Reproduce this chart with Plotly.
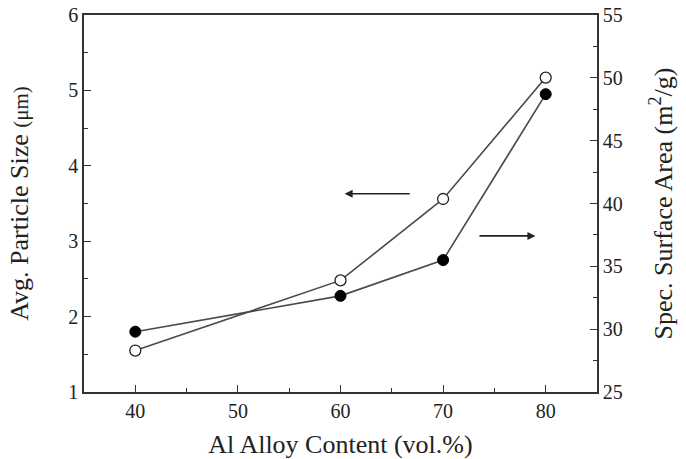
import plotly.graph_objects as go

al_content = [40, 60, 70, 80]
particle_size = [1.55, 2.48, 3.56, 5.17]      # left axis, open circles
surface_area = [29.8, 32.65, 35.5, 48.7]      # right axis, filled circles

FONT = "Liberation Serif"
LC = "#333333"

fig = go.Figure()
fig.add_trace(go.Scatter(
    x=al_content, y=particle_size, mode="lines+markers",
    line=dict(color="#4a4a4a", width=1.6),
    marker=dict(symbol="circle", size=11, color="white", line=dict(color="#222222", width=1.3)),
    showlegend=False, yaxis="y"))
fig.add_trace(go.Scatter(
    x=al_content, y=surface_area, mode="lines+markers",
    line=dict(color="#4a4a4a", width=1.6),
    marker=dict(symbol="circle", size=11, color="black", line=dict(color="black", width=1)),
    showlegend=False, yaxis="y2"))

# arrows
fig.add_annotation(x=60.4, y=3.63, ax=66.9, ay=3.63, xref="x", yref="y", axref="x", ayref="y",
                   showarrow=True, arrowhead=2, arrowsize=1, arrowwidth=1.6, arrowcolor="#222222", text="")
fig.add_annotation(x=79.0, y=3.07, ax=73.4, ay=3.07, xref="x", yref="y", axref="x", ayref="y",
                   showarrow=True, arrowhead=2, arrowsize=1, arrowwidth=1.6, arrowcolor="#222222", text="")

fig.update_layout(
    width=686, height=459,
    margin=dict(l=84, r=89, t=15, b=67),
    paper_bgcolor="white", plot_bgcolor="white",
    font=dict(family=FONT, size=20, color="#222222"),
    xaxis=dict(range=[35, 85], tickvals=[40, 50, 60, 70, 80], ticks="inside", ticklen=7,
               tickwidth=1.3, tickcolor=LC, automargin=False,
               minor=dict(dtick=5, tick0=0, ticks="inside", ticklen=4, tickcolor=LC, tickwidth=1.2),
               showline=True, linecolor=LC, linewidth=1.6, mirror=True, showgrid=False, zeroline=False,
               title=dict(text="Al Alloy Content (vol.%)", font=dict(size=26), standoff=14),
               tickfont=dict(size=20)),
    yaxis=dict(range=[1, 6], dtick=1, tick0=0, ticks="inside", ticklen=7, tickwidth=1.3, tickcolor=LC,
               automargin=False,
               minor=dict(dtick=0.5, tick0=0, ticks="inside", ticklen=4, tickcolor=LC, tickwidth=1.2),
               showline=True, linecolor=LC, linewidth=1.6, showgrid=False, zeroline=False,
               title=dict(text="Avg. Particle Size <span style='font-size:21px'>(μm)</span>",
                          font=dict(size=26), standoff=32),
               tickfont=dict(size=20)),
    yaxis2=dict(range=[25, 55], dtick=5, tick0=0, overlaying="y", side="right", ticks="inside",
                ticklen=7, tickwidth=1.3, tickcolor=LC, automargin=False,
                minor=dict(dtick=2.5, tick0=0, ticks="inside", ticklen=4, tickcolor=LC, tickwidth=1.2),
                showline=True, linecolor=LC, linewidth=1.6, showgrid=False, zeroline=False,
                title=dict(text="Spec. Surface Area (m<sup>2</sup>/g)", font=dict(size=26), standoff=32),
                tickfont=dict(size=20)),
)

fig.write_html("out.html")
